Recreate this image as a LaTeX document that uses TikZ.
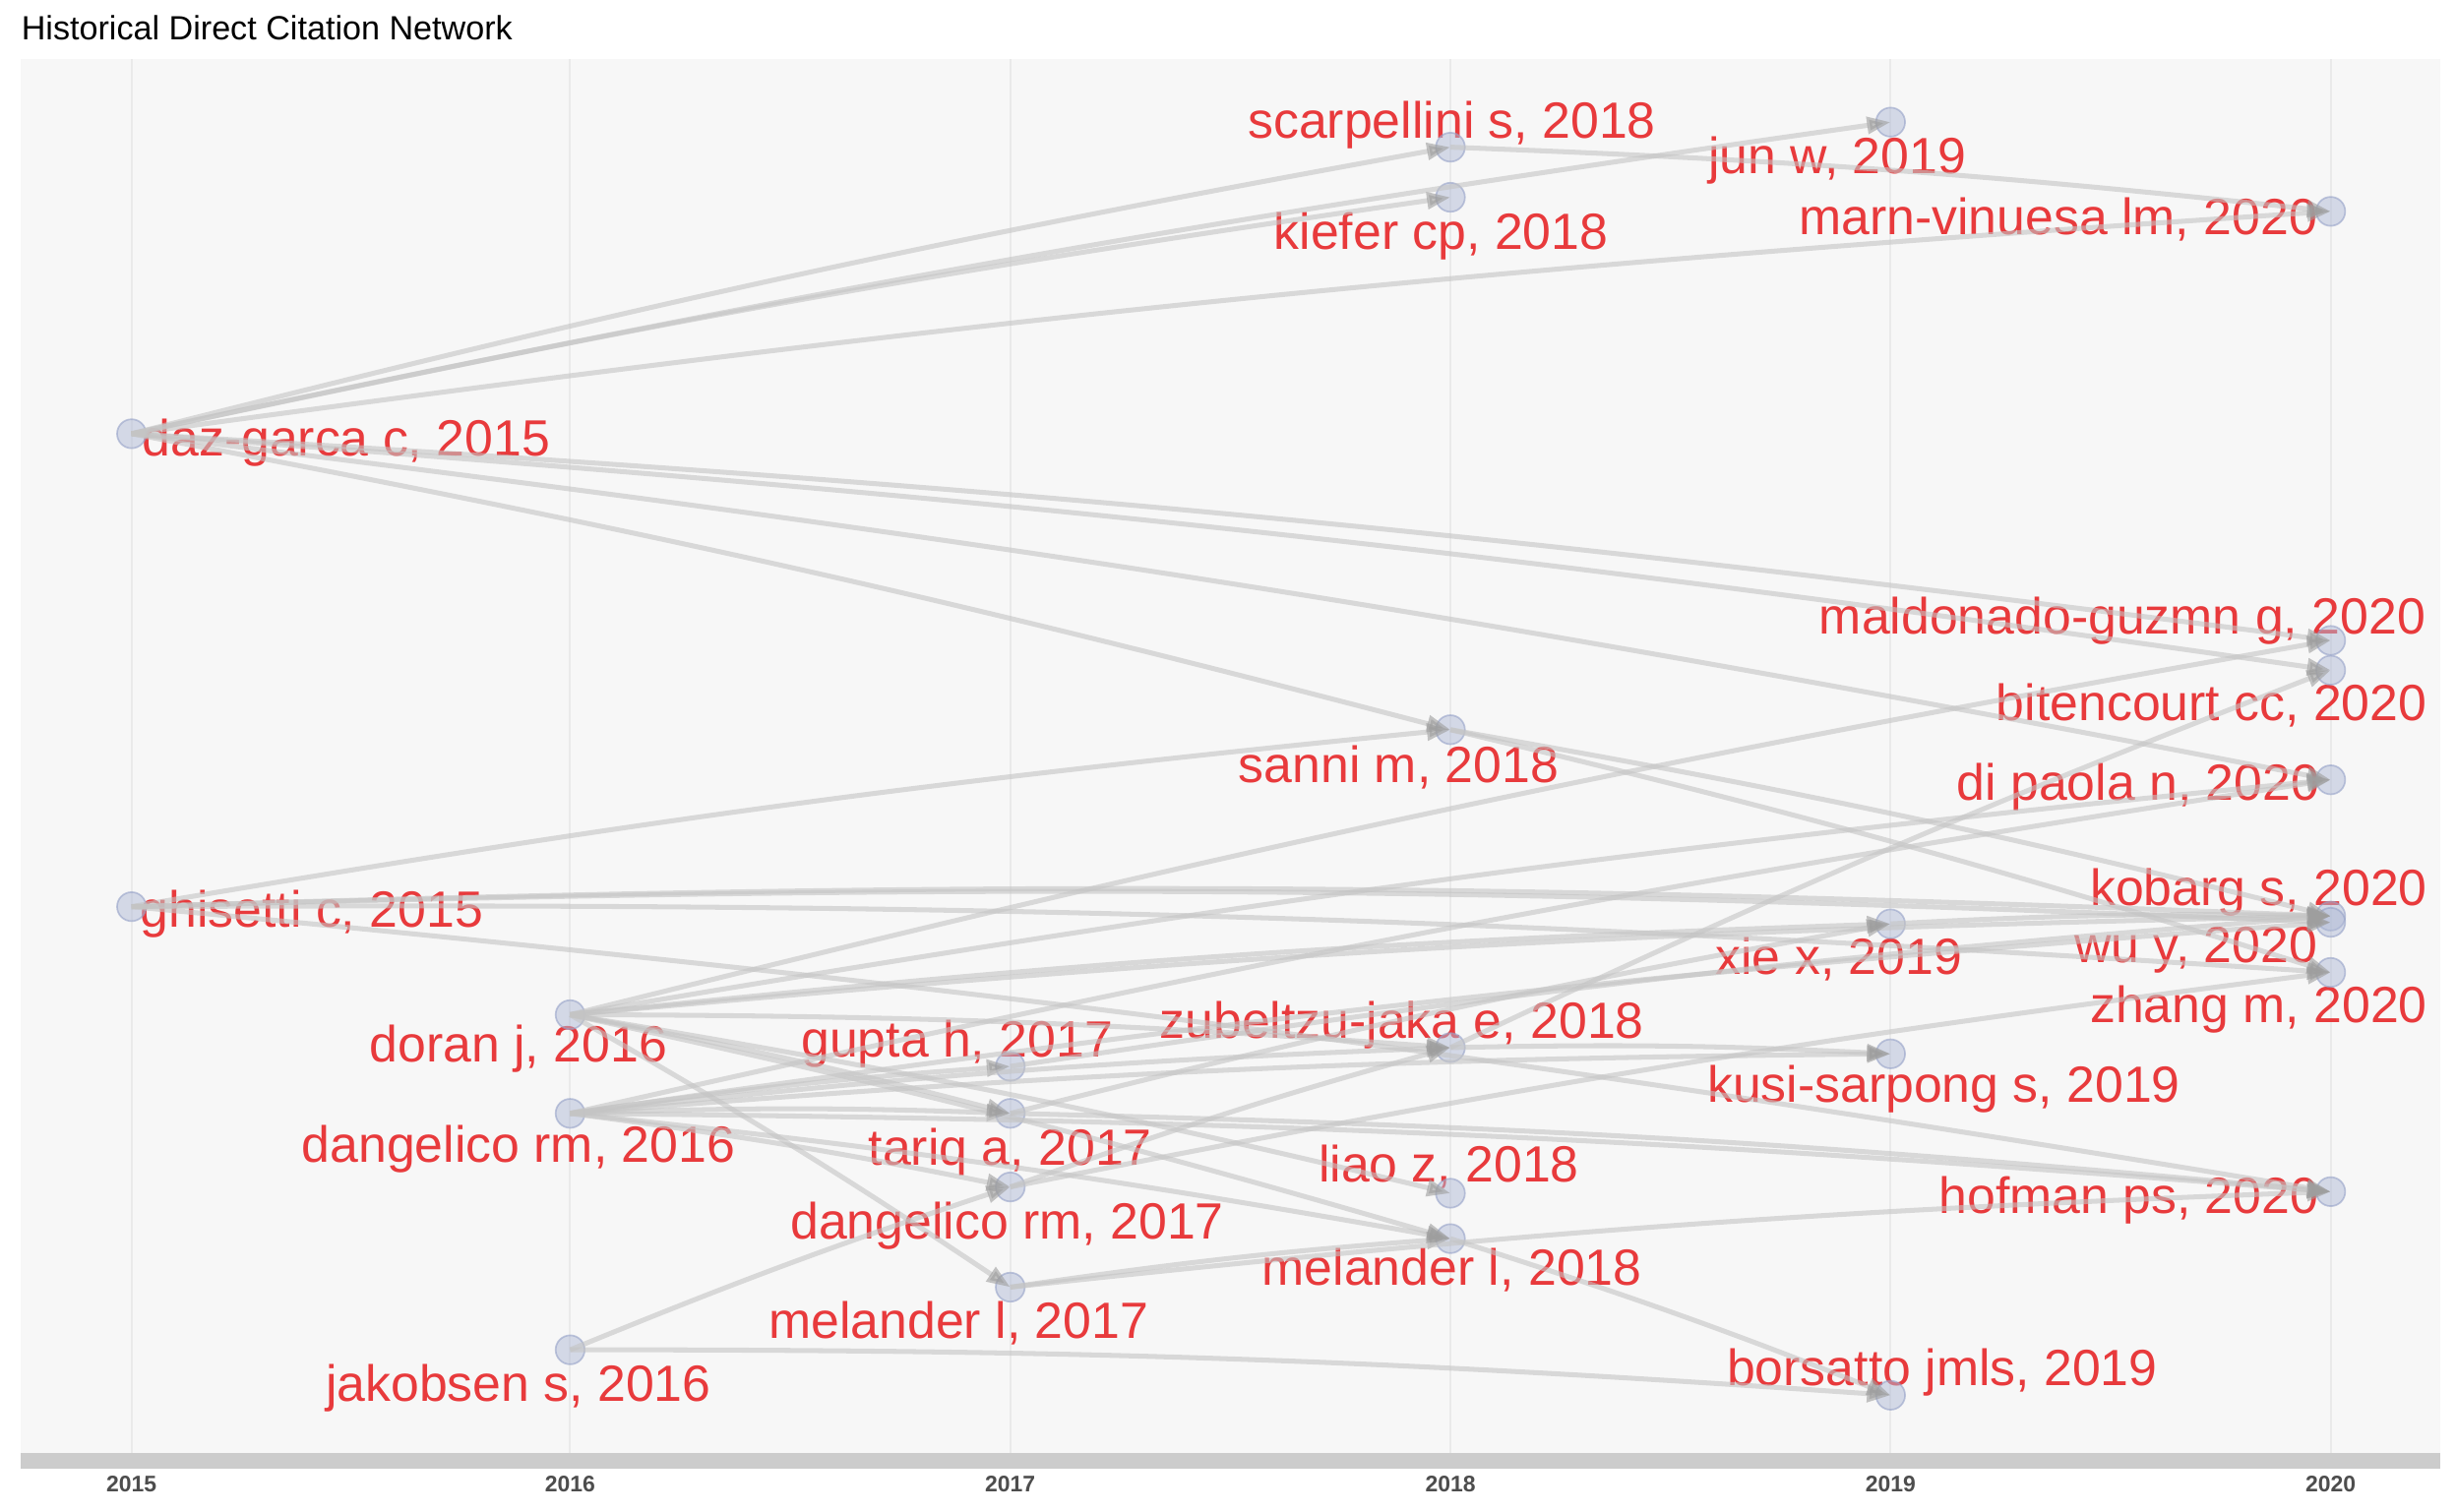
\documentclass[tikz,border=0pt]{standalone}
\usepackage{fontspec}
\setmainfont{Liberation Sans}
\usetikzlibrary{arrows.meta}
\definecolor{PanelGray}{RGB}{247,247,247}
\definecolor{GridGray}{RGB}{234,234,234}
\definecolor{StripGray}{RGB}{204,204,204}
\definecolor{EdgeGray}{RGB}{196,196,196}
\definecolor{TipGray}{RGB}{158,158,158}
\definecolor{NodeBlue}{RGB}{176,186,214}
\definecolor{NodeLine}{RGB}{150,162,200}
\definecolor{LabelRed}{RGB}{232,58,60}
\definecolor{YearGray}{RGB}{77,77,77}

\begin{document}
\begin{tikzpicture}[
  x=0.01cm, y=-0.01cm,
  paper/.style={
    circle,
    fill=NodeBlue, fill opacity=0.5,
    draw=NodeLine, draw opacity=0.6,
    line width=0.3pt,
    minimum size=0.185cm,
    inner sep=0pt
  },
  lbl/.style={text=LabelRed, anchor=base, inner sep=0pt, font=\fontsize{9.25}{11}\selectfont},
  yearlbl/.style={text=YearGray, inner sep=0pt, font=\fontsize{4.1}{5}\selectfont\bfseries},
  cite/.style={draw=EdgeGray, opacity=0.6, line width=0.9pt,
    -{Triangle[length=1.5mm,width=1.05mm,color=TipGray]}, bend left=2},
  grid/.style={draw=GridGray, line width=0.35pt}
]
\useasboundingbox (0,0) rectangle (1568,965);
\fill[white] (0,0) rectangle (1568,965);
\node[anchor=west, inner sep=0pt, font=\fontsize{6.1}{7}\selectfont] (title) at (13,18) {Historical Direct Citation Network};

% panel and year axis
\fill[PanelGray] (13,38) rectangle (1558,928);
\fill[StripGray] (13,928) rectangle (1558,938);
\coordinate (t2015) at (84,38);   \coordinate (b2015) at (84,928);
\coordinate (t2016) at (364,38);  \coordinate (b2016) at (364,928);
\coordinate (t2017) at (645,38);  \coordinate (b2017) at (645,928);
\coordinate (t2018) at (926,38);  \coordinate (b2018) at (926,928);
\coordinate (t2019) at (1207,38); \coordinate (b2019) at (1207,928);
\coordinate (t2020) at (1488,38); \coordinate (b2020) at (1488,928);
\draw[grid] (t2015) -- (b2015);
\draw[grid] (t2016) -- (b2016);
\draw[grid] (t2017) -- (b2017);
\draw[grid] (t2018) -- (b2018);
\draw[grid] (t2019) -- (b2019);
\draw[grid] (t2020) -- (b2020);
\node[yearlbl] (y2015) at (84,948) {2015};
\node[yearlbl] (y2016) at (364,948) {2016};
\node[yearlbl] (y2017) at (645,948) {2017};
\node[yearlbl] (y2018) at (926,948) {2018};
\node[yearlbl] (y2019) at (1207,948) {2019};
\node[yearlbl] (y2020) at (1488,948) {2020};

% labels
\node[lbl] (s18-l) at (927,88) {scarpellini s, 2018};
\node[lbl] (jw19-l) at (1173,111) {jun w, 2019};
\node[lbl] (k18-l) at (920,159) {kiefer cp, 2018};
\node[lbl] (mv20-l) at (1314,150) {marn-vinuesa lm, 2020};
\node[lbl] (d15-l) at (221,291) {daz-garca c, 2015};
\node[lbl] (mg20-l) at (1355,405) {maldonado-guzmn g, 2020};
\node[lbl] (bc20-l) at (1412,460) {bitencourt cc, 2020};
\node[lbl] (sa18-l) at (893,500) {sanni m, 2018};
\node[lbl] (dp20-l) at (1365,511) {di paola n, 2020};
\node[lbl] (g15-l) at (199,592) {ghisetti c, 2015};
\node[lbl] (kb20-l) at (1442,578) {kobarg s, 2020};
\node[lbl] (x19-l) at (1174,622) {xie x, 2019};
\node[lbl] (wu20-l) at (1402,615) {wu y, 2020};
\node[lbl] (zh20-l) at (1442,653) {zhang m, 2020};
\node[lbl] (do16-l) at (331,678) {doran j, 2016};
\node[lbl] (gu17-l) at (611,675) {gupta h, 2017};
\node[lbl] (z18-l) at (895,663) {zubeltzu-jaka e, 2018};
\node[lbl] (ks19-l) at (1241,704) {kusi-sarpong s, 2019};
\node[lbl] (da16-l) at (331,742) {dangelico rm, 2016};
\node[lbl] (t17-l) at (645,744) {tariq a, 2017};
\node[lbl] (l18-l) at (925,755) {liao z, 2018};
\node[lbl] (ho20-l) at (1359,775) {hofman ps, 2020};
\node[lbl] (da17-l) at (643,791) {dangelico rm, 2017};
\node[lbl] (m18-l) at (927,821) {melander l, 2018};
\node[lbl] (m17-l) at (612,855) {melander l, 2017};
\node[lbl] (b19-l) at (1240,885) {borsatto jmls, 2019};
\node[lbl] (j16-l) at (331,895) {jakobsen s, 2016};

% papers
\node[paper] (d15) at (84,277) {};
\node[paper] (g15) at (84,579) {};
\node[paper] (do16) at (364,648) {};
\node[paper] (da16) at (364,711) {};
\node[paper] (j16) at (364,862) {};
\node[paper] (gu17) at (645,681) {};
\node[paper] (t17) at (645,711) {};
\node[paper] (da17) at (645,758) {};
\node[paper] (m17) at (645,822) {};
\node[paper] (s18) at (926,94) {};
\node[paper] (k18) at (926,126) {};
\node[paper] (sa18) at (926,466) {};
\node[paper] (z18) at (926,669) {};
\node[paper] (l18) at (926,762) {};
\node[paper] (m18) at (926,791) {};
\node[paper] (jw19) at (1207,78) {};
\node[paper] (x19) at (1207,590) {};
\node[paper] (ks19) at (1207,673) {};
\node[paper] (b19) at (1207,891) {};
\node[paper] (mv20) at (1488,135) {};
\node[paper] (mg20) at (1488,409) {};
\node[paper] (bc20) at (1488,428) {};
\node[paper] (dp20) at (1488,498) {};
\node[paper] (kb20) at (1488,585) {};
\node[paper] (wu20) at (1488,589) {};
\node[paper] (zh20) at (1488,621) {};
\node[paper] (ho20) at (1488,761) {};

% citations
\draw[cite] (d15.center) to (s18.center);
\draw[cite] (d15.center) to (k18.center);
\draw[cite] (d15.center) to (jw19.center);
\draw[cite] (d15.center) to (mv20.center);
\draw[cite] (d15.center) to (mg20.center);
\draw[cite] (d15.center) to (bc20.center);
\draw[cite] (d15.center) to (dp20.center);
\draw[cite] (d15.center) to (sa18.center);
\draw[cite] (s18.center) to (mv20.center);
\draw[cite] (g15.center) to (sa18.center);
\draw[cite] (g15.center) to (kb20.center);
\draw[cite] (g15.center) to (wu20.center);
\draw[cite] (g15.center) to (zh20.center);
\draw[cite] (g15.center) to (ho20.center);
\draw[cite] (sa18.center) to (kb20.center);
\draw[cite] (sa18.center) to (zh20.center);
\draw[cite] (do16.center) to (mg20.center);
\draw[cite] (do16.center) to (dp20.center);
\draw[cite] (do16.center) to (kb20.center);
\draw[cite] (do16.center) to (x19.center);
\draw[cite] (do16.center) to (z18.center);
\draw[cite] (do16.center) to (t17.center);
\draw[cite] (do16.center) to (m17.center);
\draw[cite] (do16.center) to (l18.center);
\draw[cite] (do16.center) to (m18.center);
\draw[cite] (da16.center) to (dp20.center);
\draw[cite] (da16.center) to (gu17.center);
\draw[cite] (da16.center) to (t17.center);
\draw[cite] (da16.center) to (z18.center);
\draw[cite] (da16.center) to (ks19.center);
\draw[cite] (da16.center) to (wu20.center);
\draw[cite] (da16.center) to (m18.center);
\draw[cite] (da16.center) to (da17.center);
\draw[cite] (da16.center) to (ho20.center);
\draw[cite] (j16.center) to (da17.center);
\draw[cite] (j16.center) to (b19.center);
\draw[cite] (da17.center) to (z18.center);
\draw[cite] (da17.center) to (zh20.center);
\draw[cite] (m17.center) to (m18.center);
\draw[cite] (m17.center) to (ho20.center);
\draw[cite] (m18.center) to (b19.center);
\draw[cite] (z18.center) to (bc20.center);
\draw[cite] (z18.center) to (ks19.center);
\draw[cite] (x19.center) to (kb20.center);
\draw[cite] (gu17.center) to (kb20.center);
\draw[cite] (t17.center) to (x19.center);
\draw[cite] (t17.center) to (ho20.center);
\end{tikzpicture}
\end{document}
